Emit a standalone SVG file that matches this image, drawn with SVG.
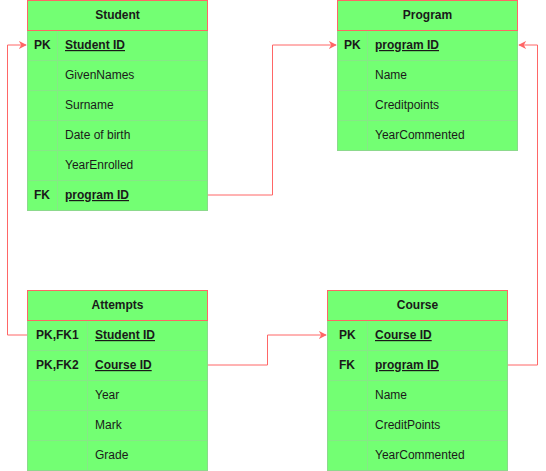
<svg xmlns="http://www.w3.org/2000/svg" width="546" height="471" viewBox="0 0 546 471">
<defs>
<marker id="arr" viewBox="0 0 10 10" refX="9" refY="5" markerWidth="8" markerHeight="8" markerUnits="userSpaceOnUse" orient="auto">
<path d="M0,0 L10,5 L0,10 L3,5 Z" fill="#FF6666"/>
</marker>
</defs>
<style>
.hdr{fill:#73FF73;stroke:#FF6666;stroke-width:1}
.body{fill:#73FF73;stroke:#8CD98C;stroke-width:1}
.div{stroke:#86E886;stroke-width:1;fill:none}
.t{font-family:"Liberation Sans",Arial,sans-serif;font-size:12px;fill:#1a1a1a}
.b{font-weight:bold}
.u{text-decoration:underline}
.c{text-anchor:middle}
.edge{fill:none;stroke:#FF6666;stroke-width:1;marker-end:url(#arr)}
</style>
<g id="connectors">
<path class="edge" d="M207.5,195 H272.5 V45 H336"/>
<path class="edge" d="M27.5,335 H7.5 V45 H26"/>
<path class="edge" d="M207.5,365 H267.5 V335 H326"/>
<path class="edge" d="M507.5,365 H537.5 V45 H519"/>
</g>
<g id="student">
<rect class="body" x="27.5" y="30.5" width="180" height="180"/>
<path class="div" d="M28,60.5 H207 M28,90.5 H207 M28,120.5 H207 M28,150.5 H207 M28,180.5 H207 M57.5,31 V210"/>
<rect class="hdr" x="27.5" y="0.5" width="180" height="30"/>
<text class="t b c" x="117.5" y="19">Student</text>
<text class="t b" x="34" y="49">PK</text><text class="t b u" x="65" y="49">Student ID</text>
<text class="t" x="65" y="79">GivenNames</text>
<text class="t" x="65" y="109">Surname</text>
<text class="t" x="65" y="139">Date of birth</text>
<text class="t" x="65" y="169">YearEnrolled</text>
<text class="t b" x="34" y="199">FK</text><text class="t b u" x="65" y="199">program ID</text>
</g>
<g id="program">
<rect class="body" x="337.5" y="30.5" width="180" height="120"/>
<path class="div" d="M338,60.5 H517 M338,90.5 H517 M338,120.5 H517 M367.5,31 V150"/>
<rect class="hdr" x="337.5" y="0.5" width="180" height="30"/>
<text class="t b c" x="427.5" y="19">Program</text>
<text class="t b" x="344" y="49">PK</text><text class="t b u" x="375" y="49">program ID</text>
<text class="t" x="375" y="79">Name</text>
<text class="t" x="375" y="109">Creditpoints</text>
<text class="t" x="375" y="139">YearCommented</text>
</g>
<g id="attempts">
<rect class="body" x="27.5" y="320.5" width="180" height="150"/>
<path class="div" d="M28,350.5 H207 M28,380.5 H207 M28,410.5 H207 M28,440.5 H207 M87.5,321 V470"/>
<rect class="hdr" x="27.5" y="290.5" width="180" height="30"/>
<text class="t b c" x="117.5" y="309">Attempts</text>
<text class="t b" x="36" y="339">PK,FK1</text><text class="t b u" x="95" y="339">Student ID</text>
<text class="t b" x="36" y="369">PK,FK2</text><text class="t b u" x="95" y="369">Course ID</text>
<text class="t" x="95" y="399">Year</text>
<text class="t" x="95" y="429">Mark</text>
<text class="t" x="95" y="459">Grade</text>
</g>
<g id="course">
<rect class="body" x="327.5" y="320.5" width="180" height="150"/>
<path class="div" d="M328,350.5 H507 M328,380.5 H507 M328,410.5 H507 M328,440.5 H507 M367.5,321 V470"/>
<rect class="hdr" x="327.5" y="290.5" width="180" height="30"/>
<text class="t b c" x="417.5" y="309">Course</text>
<text class="t b" x="339" y="339">PK</text><text class="t b u" x="375" y="339">Course ID</text>
<text class="t b" x="339" y="369">FK</text><text class="t b u" x="375" y="369">program ID</text>
<text class="t" x="375" y="399">Name</text>
<text class="t" x="375" y="429">CreditPoints</text>
<text class="t" x="375" y="459">YearCommented</text>
</g>
</svg>
